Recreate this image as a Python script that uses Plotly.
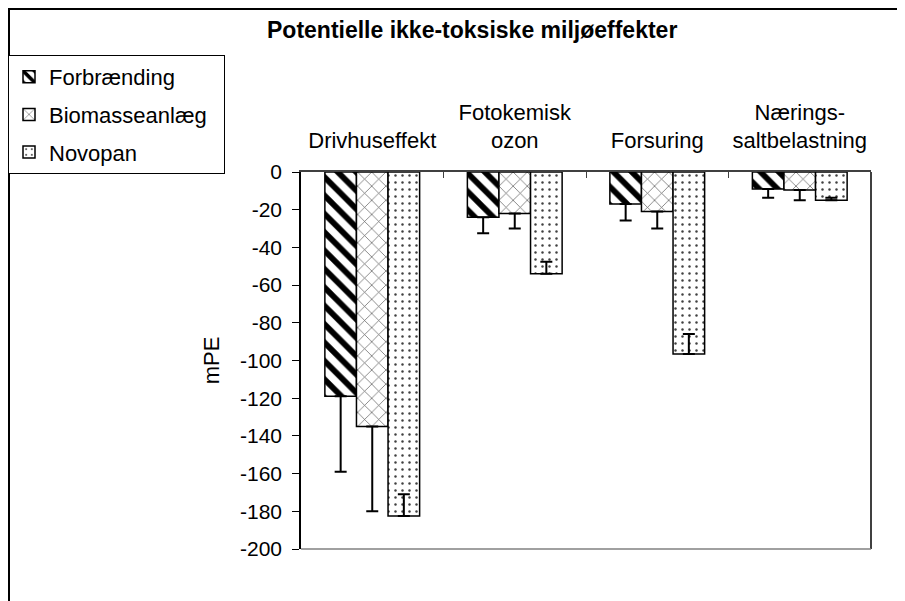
import plotly.graph_objects as go

W, H = 905, 601
OFF = 8  # page body margin offset

categories = ["Drivhuseffekt", "Fotokemisk<br>ozon", "Forsuring", "Nærings-<br>saltbelastning"]
series_names = ["Forbrænding", "Biomasseanlæg\u00a0\u00a0", "Novopan"]

forbraending = [-119, -24, -17, -9]
biomasse = [-135, -22, -21, -9.5]
novopan = [-182.5, -54, -96.5, -15]

# error toward more negative values (minus) and toward zero (plus)
forbraending_err_minus = [40, 8.5, 8.7, 4.6]
forbraending_err_plus = [0, 0, 0, 0]
biomasse_err_minus = [45, 8, 9, 5.5]
biomasse_err_plus = [0, 0, 0, 0]
novopan_err_minus = [0, 0, 0, 0]
novopan_err_plus = [11.5, 6.4, 10.6, 1.3]

y_ticks = list(range(0, -201, -20))

FONT = "Liberation Sans, Arial, sans-serif"

# pixel geometry of plot area (screen coords)
PL, PR, PT, PB = 301, 871, 172, 549

def px(x):
    return (x - OFF) / W

def py(y):
    return 1 - (y - OFF) / H

patterns = [
    dict(shape="\\", fgcolor="black", bgcolor="white", size=13, solidity=0.45, fillmode="overlay", fgopacity=1),
    dict(shape="x", fgcolor="#606060", bgcolor="white", size=10, solidity=0.14, fillmode="overlay", fgopacity=1),
    dict(shape=".", fgcolor="#404040", bgcolor="white", size=7, solidity=0.1, fillmode="overlay", fgopacity=1),
]
vals = [forbraending, biomasse, novopan]
errp = [forbraending_err_plus, biomasse_err_plus, novopan_err_plus]
errm = [forbraending_err_minus, biomasse_err_minus, novopan_err_minus]

fig = go.Figure()
for i, name in enumerate(series_names):
    fig.add_trace(go.Bar(
        x=categories, y=vals[i], name=name, legendgroup=name,
        marker=dict(color="white", pattern=patterns[i], line=dict(color="black", width=1.5)),
        error_y=dict(type="data", symmetric=False, array=errp[i], arrayminus=errm[i],
                     color="black", thickness=2, width=6),
    ))

fig.update_layout(
    width=W, height=H,
    margin=dict(l=0, r=0, t=0, b=0),
    paper_bgcolor="white", plot_bgcolor="white",
    barmode="group", bargap=0.335, bargroupgap=0,
    font=dict(family=FONT, size=22, color="black"),
    showlegend=True,
    legend=dict(x=px(8), y=py(55), xanchor="left", yanchor="top",
                bordercolor="black", borderwidth=1, bgcolor="white",
                tracegroupgap=6, font=dict(size=22)),
    xaxis=dict(domain=[px(PL), px(PR)], side="top", type="category",
               showline=True, linecolor="#404040", linewidth=1.5,
               ticks="inside", ticklen=6, tickson="boundaries", tickcolor="#404040",
               showgrid=False, zeroline=False, automargin=False, tickangle=0,
               ticklabelstandoff=13, tickfont=dict(size=22)),
    yaxis=dict(domain=[py(PB), py(PT)], range=[-200, 0], tickvals=y_ticks,
               ticktext=[str(v) for v in y_ticks],
               showline=True, linecolor="black", linewidth=1.5,
               ticks="outside", ticklen=7, tickcolor="black",
               showgrid=False, zeroline=False, automargin=False,
               ticklabelstandoff=6, tickfont=dict(size=21),
               title=dict(text="mPE", standoff=14, font=dict(size=22))),
    shapes=[
        # outer chart frame
        dict(type="rect", xref="paper", yref="paper", x0=px(9), x1=px(W + 30), y0=py(9), y1=py(H + 30),
             line=dict(color="black", width=2), layer="below"),
        # plot area right border
        dict(type="line", xref="paper", yref="paper", x0=px(PR), x1=px(PR), y0=py(PT), y1=py(PB),
             line=dict(color="black", width=1.5)),
        # plot area bottom border
        dict(type="line", xref="paper", yref="paper", x0=px(PL), x1=px(PR), y0=py(PB), y1=py(PB),
             line=dict(color="#808080", width=1.5)),
    ],
    annotations=[
        dict(text="<b>Potentielle ikke-toksiske miljøeffekter</b>", xref="paper", yref="paper",
             x=px(472), y=py(30), xanchor="center", yanchor="middle", showarrow=False,
             font=dict(size=23, family=FONT)),
    ],
)

fig.write_html("out.html")
